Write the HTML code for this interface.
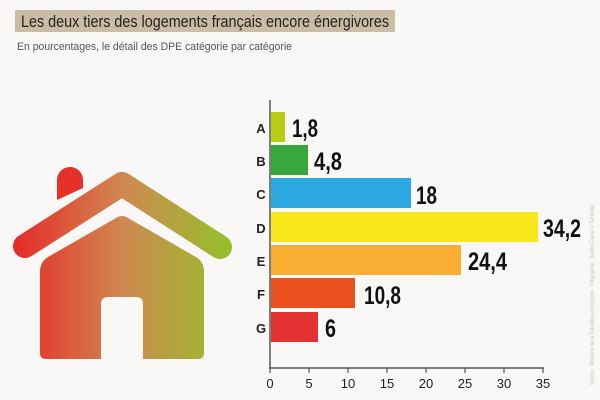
<!DOCTYPE html>
<html><head><meta charset="utf-8"><style>
html,body{margin:0;padding:0;background:#f9f8f6;}
svg{display:block;font-family:"Liberation Sans",sans-serif;}
</style></head><body>
<svg width="600" height="400" viewBox="0 0 600 400">
<rect width="600" height="400" fill="#f9f8f6"/>
<rect x="15" y="10" width="380" height="22" fill="#cbbda3"/>
<text x="21" y="27" font-size="17" fill="#222" textLength="368" lengthAdjust="spacingAndGlyphs">Les deux tiers des logements français encore énergivores</text>
<text x="17" y="50" font-size="11" fill="#555" textLength="275" lengthAdjust="spacingAndGlyphs">En pourcentages, le détail des DPE catégorie par catégorie</text>
<defs><linearGradient id="g" x1="12" y1="0" x2="232" y2="0" gradientUnits="userSpaceOnUse">
<stop offset="0" stop-color="#e52a2a"/><stop offset="0.5" stop-color="#d0874f"/><stop offset="1" stop-color="#94c12b"/></linearGradient></defs>
<path d="M57,200 L57,180 A13,13 0 0 1 83,180 L83,188 Z" fill="#e5302a"/>
<polyline points="25,246 122,184 220,247" fill="none" stroke="url(#g)" stroke-width="24" stroke-linecap="round" stroke-linejoin="round"/>
<path d="M40,272 Q40,262 48,257 L116,218 Q122,214 128,218 L196,257 Q204,262 204,272 L204,353 Q204,359 198,359 L46,359 Q40,359 40,353 Z" fill="url(#g)"/>
<path d="M101,360 L101,304 Q101,297 108,297 L136,297 Q143,297 143,304 L143,360 Z" fill="#f9f8f6"/>
<g>
<rect x="271" y="112" width="14" height="30" fill="#b7cc12"/>
<rect x="271" y="145" width="37" height="30" fill="#38a83a"/>
<rect x="271" y="178" width="140" height="30" fill="#2ea8e0"/>
<rect x="271" y="212" width="267" height="30" fill="#f8e81b"/>
<rect x="271" y="245" width="190" height="30" fill="#f9ad33"/>
<rect x="271" y="278" width="84" height="30" fill="#e9501e"/>
<rect x="271" y="312" width="47" height="30" fill="#e33030"/>
</g>
<g font-size="25" font-weight="bold" fill="#111" lengthAdjust="spacingAndGlyphs">
<text x="292" y="137" textLength="26" lengthAdjust="spacingAndGlyphs">1,8</text>
<text x="314" y="170" textLength="28" lengthAdjust="spacingAndGlyphs">4,8</text>
<text x="416" y="204" textLength="21" lengthAdjust="spacingAndGlyphs">18</text>
<text x="543" y="237" textLength="38" lengthAdjust="spacingAndGlyphs">34,2</text>
<text x="468" y="270" textLength="39" lengthAdjust="spacingAndGlyphs">24,4</text>
<text x="364" y="304" textLength="37" lengthAdjust="spacingAndGlyphs">10,8</text>
<text x="325" y="337" textLength="11" lengthAdjust="spacingAndGlyphs">6</text>
</g>
<g font-size="13" font-weight="bold" fill="#222" text-anchor="middle">
<text x="261" y="133">A</text><text x="261" y="166">B</text><text x="261" y="199">C</text>
<text x="261" y="233">D</text><text x="261" y="266">E</text><text x="261" y="299">F</text><text x="261" y="333">G</text>
</g>
<line x1="270" y1="100" x2="270" y2="369" stroke="#555" stroke-width="1.5"/>
<line x1="269" y1="368" x2="544" y2="368" stroke="#555" stroke-width="1.5"/>
<g stroke="#555" stroke-width="1.2">
<line x1="270" y1="368" x2="270" y2="373"/><line x1="309" y1="368" x2="309" y2="373"/><line x1="348" y1="368" x2="348" y2="373"/><line x1="387" y1="368" x2="387" y2="373"/><line x1="426" y1="368" x2="426" y2="373"/><line x1="465" y1="368" x2="465" y2="373"/><line x1="504" y1="368" x2="504" y2="373"/><line x1="543" y1="368" x2="543" y2="373"/>
</g>
<g font-size="13" fill="#222" text-anchor="middle">
<text x="270" y="388">0</text><text x="309" y="388">5</text><text x="348" y="388">10</text><text x="387" y="388">15</text><text x="426" y="388">20</text><text x="465" y="388">25</text><text x="504" y="388">30</text><text x="543" y="388">35</text>
</g>
<text transform="translate(594,385) rotate(-90)" font-size="6" fill="#c9c4bb" textLength="180" lengthAdjust="spacingAndGlyphs">Source : Ministère de la Transition écologique · Infographie : Justine Cabat © Territorial</text>
</svg>
</body></html>
